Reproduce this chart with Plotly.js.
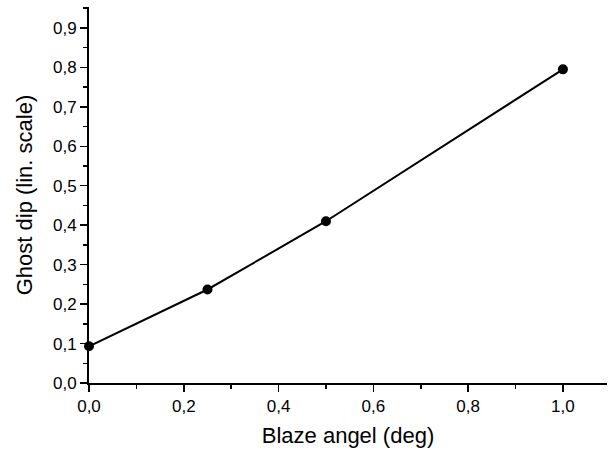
<!DOCTYPE html>
<html>
<head>
<meta charset="utf-8">
<script src="https://cdn.plot.ly/plotly-3.0.1.min.js"></script>
<style>html,body{margin:0;padding:0;background:#fff;}#chart{width:610px;height:451px;}</style>
</head>
<body>
<div id="chart"></div>
<script>
const blazeAngle = [0.0, 0.25, 0.5, 1.0];
const ghostDip = [0.093, 0.237, 0.41, 0.795];
const xTicks = [0, 0.2, 0.4, 0.6, 0.8, 1.0];
const yTicks = [0, 0.1, 0.2, 0.3, 0.4, 0.5, 0.6, 0.7, 0.8, 0.9];
const fmt = v => v.toFixed(1).replace('.', ',');

const trace = {
  x: blazeAngle, y: ghostDip, type: 'scatter', mode: 'lines+markers',
  line: {color: '#000', width: 2},
  marker: {color: '#000', size: 10},
  cliponaxis: false
};
const fontFam = 'Liberation Sans, Arial, sans-serif';
const layout = {
  width: 610, height: 451,
  margin: {l: 89, r: 3, t: 7, b: 68},
  paper_bgcolor: '#fff', plot_bgcolor: '#fff',
  showlegend: false,
  font: {family: fontFam, color: '#000'},
  xaxis: {
    range: [0, 1.093], showgrid: false, zeroline: false,
    showline: true, linecolor: '#000', linewidth: 2,
    ticks: 'outside', ticklen: 7, tickwidth: 1.5, tickcolor: '#000',
    tickvals: xTicks, ticktext: xTicks.map(fmt),
    tickfont: {size: 17, family: fontFam},
    minor: {dtick: 0.1, tick0: 0, ticks: 'outside', ticklen: 4, tickwidth: 1.5, tickcolor: '#000', showgrid: false},
    title: {text: 'Blaze angel (deg)', font: {size: 22, family: fontFam}, standoff: 12}
  },
  yaxis: {
    range: [0, 0.953], showgrid: false, zeroline: false,
    showline: true, linecolor: '#000', linewidth: 2,
    ticks: 'outside', ticklen: 7, tickwidth: 1.5, tickcolor: '#000',
    tickvals: yTicks, ticktext: yTicks.map(fmt),
    tickfont: {size: 17, family: fontFam},
    minor: {dtick: 0.05, tick0: 0, ticks: 'outside', ticklen: 4, tickwidth: 1.5, tickcolor: '#000', showgrid: false},
    title: {text: 'Ghost dip (lin. scale)', font: {size: 22, family: fontFam}, standoff: 14}
  }
};
Plotly.newPlot('chart', [trace], layout, {displayModeBar: false, staticPlot: true});
</script>
</body>
</html>
